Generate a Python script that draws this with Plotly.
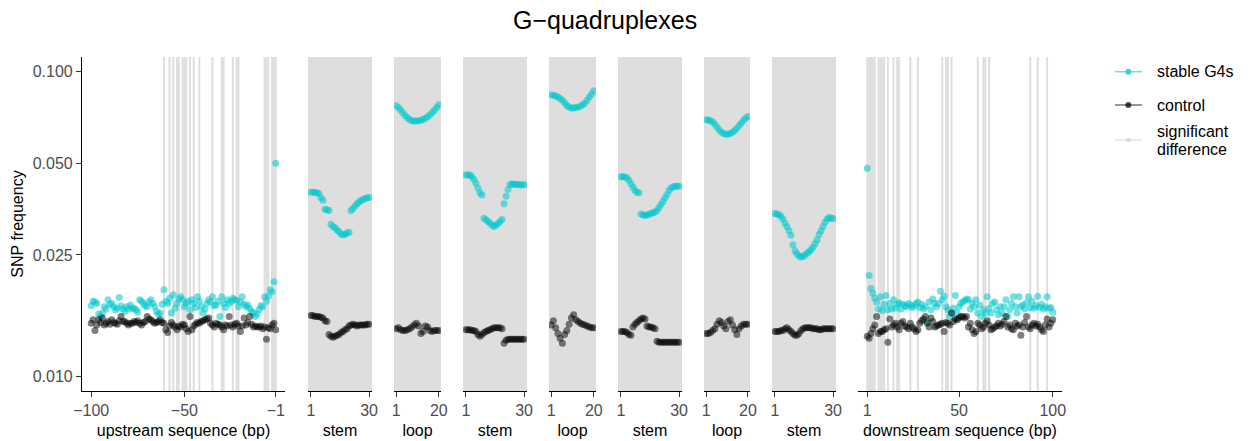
import plotly.graph_objects as go

W, H = 1252, 441

# ---------------- data ----------------
upstream_pos = list(range(-100, 0))
stem_pos = list(range(1, 31))
loop_pos = list(range(1, 21))
downstream_pos = list(range(1, 101))

up_stable = [0.0170, 0.0176, 0.0175, 0.0173, 0.0160, 0.0157, 0.0161, 0.0169, 0.0166, 0.0178,
             0.0172, 0.0173, 0.0169, 0.0165, 0.0167, 0.0181, 0.0170, 0.0166, 0.0163, 0.0169,
             0.0166, 0.0171, 0.0167, 0.0167, 0.0165, 0.0162, 0.0178, 0.0176, 0.0173, 0.0170,
             0.0169, 0.0175, 0.0178, 0.0173, 0.0169, 0.0163, 0.0160, 0.0161, 0.0172, 0.0192,
             0.0176, 0.0173, 0.0180, 0.0161, 0.0185, 0.0167, 0.0173, 0.0179, 0.0182, 0.0178,
             0.0169, 0.0173, 0.0176, 0.0165, 0.0178, 0.0173, 0.0168, 0.0182, 0.0176, 0.0169,
             0.0161, 0.0166, 0.0173, 0.0178, 0.0175, 0.0182, 0.0170, 0.0171, 0.0176, 0.0157,
             0.0182, 0.0173, 0.0168, 0.0178, 0.0173, 0.0176, 0.0180, 0.0178, 0.0177, 0.0169,
             0.0175, 0.0182, 0.0172, 0.0169, 0.0171, 0.0167, 0.0163, 0.0161, 0.0157, 0.0160,
             0.0165, 0.0170, 0.0169, 0.0182, 0.0176, 0.0183, 0.0192, 0.0189, 0.0204, 0.0500]
up_control = [0.0149, 0.0153, 0.0141, 0.0147, 0.0153, 0.0150, 0.0155, 0.0147, 0.0149, 0.0151,
              0.0148, 0.0153, 0.0150, 0.0149, 0.0148, 0.0152, 0.0157, 0.0151, 0.0151, 0.0149,
              0.0147, 0.0149, 0.0149, 0.0151, 0.0150, 0.0152, 0.0149, 0.0147, 0.0150, 0.0151,
              0.0157, 0.0154, 0.0153, 0.0151, 0.0149, 0.0150, 0.0151, 0.0153, 0.0150, 0.0149,
              0.0142, 0.0139, 0.0146, 0.0150, 0.0147, 0.0145, 0.0142, 0.0146, 0.0145, 0.0148,
              0.0147, 0.0143, 0.0140, 0.0157, 0.0142, 0.0146, 0.0148, 0.0150, 0.0149, 0.0151,
              0.0152, 0.0153, 0.0154, 0.0155, 0.0149, 0.0147, 0.0145, 0.0149, 0.0148, 0.0147,
              0.0145, 0.0142, 0.0147, 0.0146, 0.0157, 0.0147, 0.0145, 0.0148, 0.0149, 0.0146,
              0.0140, 0.0146, 0.0155, 0.0147, 0.0150, 0.0157, 0.0148, 0.0145, 0.0146, 0.0145,
              0.0145, 0.0146, 0.0143, 0.0145, 0.0132, 0.0144, 0.0143, 0.0147, 0.0149, 0.0142]

stem1_stable = [0.0402, 0.0402, 0.0401, 0.0400, 0.0398, 0.0385, 0.0378, 0.0353, 0.0352, 0.0350,
                0.0315, 0.0310, 0.0307, 0.0302, 0.0298, 0.0293, 0.0291, 0.0292, 0.0295, 0.0297,
                0.0350, 0.0355, 0.0362, 0.0368, 0.0373, 0.0377, 0.0380, 0.0383, 0.0385, 0.0386]
stem1_control = [0.0158, 0.0158, 0.0157, 0.0157, 0.0157, 0.0156, 0.0155, 0.0152, 0.0151, 0.0137,
                 0.0135, 0.0134, 0.0135, 0.0136, 0.0137, 0.0139, 0.0140, 0.0142, 0.0143, 0.0146,
                 0.0147, 0.0148, 0.0147, 0.0146, 0.0147, 0.0147, 0.0147, 0.0147, 0.0148, 0.0148]

loop1_stable = [0.0775, 0.0762, 0.0748, 0.0733, 0.0718, 0.0706, 0.0697, 0.0690, 0.0688, 0.0689,
                0.0690, 0.0693, 0.0697, 0.0703, 0.0711, 0.0720, 0.0733, 0.0747, 0.0762, 0.0778]
loop1_control = [0.0143, 0.0144, 0.0142, 0.0141, 0.0141, 0.0142, 0.0143, 0.0145, 0.0147, 0.0149,
                 0.0146, 0.0138, 0.0140, 0.0146, 0.0145, 0.0141, 0.0140, 0.0141, 0.0141, 0.0141]

stem2_stable = [0.0458, 0.0458, 0.0458, 0.0452, 0.0442, 0.0430, 0.0415, 0.0400, 0.0393, 0.0330,
                0.0326, 0.0322, 0.0318, 0.0313, 0.0310, 0.0313, 0.0317, 0.0322, 0.0327, 0.0368,
                0.0390, 0.0410, 0.0425, 0.0428, 0.0427, 0.0426, 0.0426, 0.0425, 0.0425, 0.0425]
stem2_control = [0.0142, 0.0142, 0.0142, 0.0141, 0.0141, 0.0140, 0.0137, 0.0135, 0.0137, 0.0139,
                 0.0140, 0.0141, 0.0142, 0.0143, 0.0144, 0.0144, 0.0144, 0.0144, 0.0143, 0.0128,
                 0.0131, 0.0132, 0.0132, 0.0132, 0.0132, 0.0132, 0.0132, 0.0132, 0.0132, 0.0132]

loop2_stable = [0.0838, 0.0836, 0.0832, 0.0826, 0.0817, 0.0805, 0.0790, 0.0775, 0.0765, 0.0760,
                0.0760, 0.0763, 0.0766, 0.0770, 0.0778, 0.0788, 0.0805, 0.0825, 0.0845, 0.0865]
loop2_control = [0.0147, 0.0152, 0.0144, 0.0138, 0.0133, 0.0128, 0.0137, 0.0141, 0.0148, 0.0155,
                 0.0159, 0.0153, 0.0151, 0.0149, 0.0148, 0.0147, 0.0146, 0.0145, 0.0144, 0.0144]

stem3_stable = [0.0452, 0.0452, 0.0451, 0.0448, 0.0440, 0.0428, 0.0418, 0.0408, 0.0402, 0.0400,
                0.0341, 0.0338, 0.0337, 0.0338, 0.0340, 0.0342, 0.0344, 0.0346, 0.0350, 0.0358,
                0.0366, 0.0375, 0.0385, 0.0395, 0.0407, 0.0415, 0.0419, 0.0420, 0.0420, 0.0420]
stem3_control = [0.0140, 0.0140, 0.0140, 0.0139, 0.0137, 0.0136, 0.0145, 0.0148, 0.0150, 0.0152,
                 0.0154, 0.0155, 0.0154, 0.0146, 0.0145, 0.0145, 0.0144, 0.0143, 0.0130, 0.0129,
                 0.0129, 0.0129, 0.0129, 0.0129, 0.0129, 0.0129, 0.0129, 0.0129, 0.0129, 0.0129]

loop3_stable = [0.0695, 0.0694, 0.0690, 0.0683, 0.0672, 0.0657, 0.0643, 0.0633, 0.0626, 0.0623,
                0.0623, 0.0626, 0.0632, 0.0641, 0.0652, 0.0665, 0.0678, 0.0692, 0.0704, 0.0712]
loop3_control = [0.0138, 0.0138, 0.0139, 0.0141, 0.0143, 0.0148, 0.0152, 0.0150, 0.0146, 0.0143,
                 0.0151, 0.0153, 0.0147, 0.0142, 0.0137, 0.0143, 0.0146, 0.0148, 0.0148, 0.0148]

stem4_stable = [0.0342, 0.0341, 0.0339, 0.0335, 0.0328, 0.0318, 0.0310, 0.0300, 0.0290, 0.0270,
                0.0258, 0.0252, 0.0248, 0.0246, 0.0247, 0.0250, 0.0253, 0.0256, 0.0260, 0.0265,
                0.0272, 0.0280, 0.0292, 0.0300, 0.0310, 0.0320, 0.0328, 0.0332, 0.0330, 0.0329]
stem4_control = [0.0140, 0.0140, 0.0140, 0.0141, 0.0141, 0.0143, 0.0144, 0.0142, 0.0140, 0.0138,
                 0.0136, 0.0136, 0.0138, 0.0141, 0.0143, 0.0144, 0.0144, 0.0144, 0.0144, 0.0143,
                 0.0143, 0.0143, 0.0142, 0.0142, 0.0143, 0.0143, 0.0143, 0.0143, 0.0143, 0.0143]

down_stable = [0.0482, 0.0214, 0.0194, 0.0187, 0.0180, 0.0175, 0.0166, 0.0182, 0.0164, 0.0172,
               0.0184, 0.0165, 0.0173, 0.0166, 0.0178, 0.0167, 0.0172, 0.0174, 0.0166, 0.0172,
               0.0170, 0.0169, 0.0173, 0.0171, 0.0168, 0.0170, 0.0173, 0.0175, 0.0168, 0.0172,
               0.0166, 0.0169, 0.0151, 0.0175, 0.0165, 0.0179, 0.0173, 0.0169, 0.0173, 0.0190,
               0.0178, 0.0183, 0.0169, 0.0165, 0.0157, 0.0161, 0.0167, 0.0184, 0.0161, 0.0169,
               0.0173, 0.0175, 0.0177, 0.0179, 0.0178, 0.0166, 0.0173, 0.0169, 0.0178, 0.0161,
               0.0171, 0.0157, 0.0165, 0.0161, 0.0182, 0.0167, 0.0161, 0.0173, 0.0175, 0.0165,
               0.0159, 0.0169, 0.0161, 0.0169, 0.0178, 0.0157, 0.0165, 0.0173, 0.0182, 0.0169,
               0.0161, 0.0182, 0.0169, 0.0171, 0.0166, 0.0174, 0.0182, 0.0168, 0.0176, 0.0167,
               0.0170, 0.0183, 0.0168, 0.0172, 0.0166, 0.0169, 0.0182, 0.0167, 0.0168, 0.0162]
down_control = [0.0135, 0.0133, 0.0138, 0.0143, 0.0147, 0.0157, 0.0138, 0.0140, 0.0140, 0.0142,
                0.0143, 0.0129, 0.0154, 0.0145, 0.0147, 0.0149, 0.0145, 0.0142, 0.0149, 0.0151,
                0.0146, 0.0145, 0.0143, 0.0149, 0.0145, 0.0143, 0.0140, 0.0142, 0.0149, 0.0152,
                0.0154, 0.0157, 0.0149, 0.0145, 0.0155, 0.0151, 0.0145, 0.0146, 0.0147, 0.0148,
                0.0149, 0.0140, 0.0150, 0.0149, 0.0147, 0.0161, 0.0151, 0.0154, 0.0153, 0.0155,
                0.0157, 0.0157, 0.0155, 0.0157, 0.0145, 0.0149, 0.0142, 0.0138, 0.0140, 0.0149,
                0.0147, 0.0143, 0.0145, 0.0149, 0.0152, 0.0147, 0.0142, 0.0143, 0.0145, 0.0146,
                0.0149, 0.0146, 0.0148, 0.0151, 0.0157, 0.0145, 0.0147, 0.0143, 0.0142, 0.0149,
                0.0146, 0.0147, 0.0136, 0.0145, 0.0150, 0.0157, 0.0145, 0.0143, 0.0147, 0.0149,
                0.0146, 0.0148, 0.0145, 0.0142, 0.0140, 0.0147, 0.0154, 0.0145, 0.0149, 0.0153]

sig_up = [-61, -58, -56, -54, -53, -51, -50, -49, -47, -45, -42, -35, -30, -29, -24, -22, -21,
          -7, -6, -5, -3, -2, -1]
sig_down = [1, 2, 3, 4, 5, 7, 8, 9, 10, 12, 15, 17, 18, 24, 28, 41, 43, 44, 46, 60, 63, 64, 66,
            88, 92, 97]

panel_titles = ["upstream sequence (bp)", "stem", "loop", "stem", "loop", "stem", "loop", "stem",
                "downstream sequence (bp)"]
y_tickvals = [0.010, 0.025, 0.050, 0.100]
y_ticktext = ["0.010", "0.025", "0.050", "0.100"]

# ---------------- style / layout ----------------
CYAN = "rgba(0,200,204,0.55)"
BLACK = "rgba(0,0,0,0.5)"
SIG = "#DEDEDE"
FONT = "Liberation Sans, Arial, sans-serif"

panels = [
    dict(x=upstream_pos, s=up_stable, c=up_control, px=(82, 285), rng=(-104.95, 3.95),
         tv=[-100, -50, -1], tt=["\u2212100", "\u221250", "\u22121"], grey=False),
    dict(x=stem_pos, s=stem1_stable, c=stem1_control, px=(308, 372), rng=(-0.45, 31.45),
         tv=[1, 30], tt=["1", "30"], grey=True),
    dict(x=loop_pos, s=loop1_stable, c=loop1_control, px=(394, 441), rng=(0.05, 20.95),
         tv=[1, 20], tt=["1", "20"], grey=True),
    dict(x=stem_pos, s=stem2_stable, c=stem2_control, px=(463, 527), rng=(-0.45, 31.45),
         tv=[1, 30], tt=["1", "30"], grey=True),
    dict(x=loop_pos, s=loop2_stable, c=loop2_control, px=(549, 596), rng=(0.05, 20.95),
         tv=[1, 20], tt=["1", "20"], grey=True),
    dict(x=stem_pos, s=stem3_stable, c=stem3_control, px=(618, 682), rng=(-0.45, 31.45),
         tv=[1, 30], tt=["1", "30"], grey=True),
    dict(x=loop_pos, s=loop3_stable, c=loop3_control, px=(704, 750), rng=(0.05, 20.95),
         tv=[1, 20], tt=["1", "20"], grey=True),
    dict(x=stem_pos, s=stem4_stable, c=stem4_control, px=(772, 836), rng=(-0.45, 31.45),
         tv=[1, 30], tt=["1", "30"], grey=True),
    dict(x=downstream_pos, s=down_stable, c=down_control, px=(858, 1062), rng=(-3.95, 104.95),
         tv=[1, 50, 100], tt=["1", "50", "100"], grey=False),
]

TOP, BOT = 57, 391
ydom = [1 - BOT / H, 1 - TOP / H]

fig = go.Figure()
shapes = []
layout = dict(
    width=W, height=H, margin=dict(l=0, r=0, t=0, b=0, autoexpand=False),
    paper_bgcolor="white", plot_bgcolor="rgba(0,0,0,0)",
    showlegend=False, font=dict(family=FONT, size=16, color="#000000"),
    yaxis=dict(type="log", range=[-2.0493, -0.9517], domain=ydom, anchor="x",
               automargin=False,
               tickvals=y_tickvals, ticktext=y_ticktext, showline=True, linecolor="black",
               linewidth=1.1, ticks="outside", ticklen=5, tickcolor="#333333", tickwidth=1.1,
               showgrid=False, zeroline=False, tickfont=dict(size=16, color="#4D4D4D"),
               title=dict(text="SNP frequency", font=dict(size=16, color="black"), standoff=5)),
)

for i, p in enumerate(panels):
    k = "" if i == 0 else str(i + 1)
    xname = "x" + k
    axkey = "xaxis" + k
    layout[axkey] = dict(
        domain=[p["px"][0] / W, p["px"][1] / W], range=list(p["rng"]), anchor="y",
        automargin=False,
        tickvals=p["tv"], ticktext=p["tt"], showline=True, linecolor="black", linewidth=1.1,
        ticks="outside", ticklen=5, tickcolor="#333333", tickwidth=1.1, showgrid=False,
        zeroline=False, tickfont=dict(size=16, color="#4D4D4D"),
        title=dict(text=panel_titles[i], font=dict(size=16, color="black"), standoff=6),
    )
    if p["grey"]:
        shapes.append(dict(type="rect", xref=xname + " domain", yref="y domain",
                           x0=0, x1=1, y0=0, y1=1, fillcolor=SIG, line=dict(width=0),
                           layer="below"))
    sig = sig_up if i == 0 else (sig_down if i == 8 else [])
    for v in sig:
        shapes.append(dict(type="line", xref=xname, yref="y domain", x0=v, x1=v, y0=0, y1=1,
                           line=dict(color=SIG, width=2), layer="below"))
    fig.add_trace(go.Scatter(x=p["x"], y=p["s"], mode="markers", xaxis=xname, yaxis="y",
                             marker=dict(size=7, color=CYAN, line=dict(width=0)),
                             name="stable G4s"))
    fig.add_trace(go.Scatter(x=p["x"], y=p["c"], mode="markers", xaxis=xname, yaxis="y",
                             marker=dict(size=7, color=BLACK, line=dict(width=0)),
                             name="control"))

# ---------------- manual legend ----------------
def px2x(x):
    return x / W


def px2y(y):
    return 1 - y / H


annotations = []
legend_items = [
    (71.7, "rgba(0,200,204,0.55)", "rgba(0,200,204,0.75)", "circle", ["stable G4s"]),
    (105.0, "rgba(0,0,0,0.55)", "rgba(0,0,0,0.7)", "circle", ["control"]),
    (140.0, "#E3E3E3", "#DADADA", "square", ["significant", "difference"]),
]
for yy, lc, mc, sym, labels in legend_items:
    shapes.append(dict(type="line", xref="paper", yref="paper", x0=px2x(1115), x1=px2x(1142),
                       y0=px2y(yy), y1=px2y(yy), line=dict(color=lc, width=1.5)))
    if sym == "circle":
        shapes.append(dict(type="circle", xref="paper", yref="paper",
                           x0=px2x(1125.3), x1=px2x(1131.3), y0=px2y(yy + 3), y1=px2y(yy - 3),
                           fillcolor=mc, line=dict(width=0)))
    else:
        shapes.append(dict(type="rect", xref="paper", yref="paper",
                           x0=px2x(1126.5), x1=px2x(1130.5), y0=px2y(yy + 2), y1=px2y(yy - 2),
                           fillcolor=mc, line=dict(width=0)))
    if len(labels) == 1:
        annotations.append(dict(text=labels[0], xref="paper", yref="paper", x=px2x(1155),
                                y=px2y(yy), xanchor="left", yanchor="middle", showarrow=False,
                                font=dict(size=16, color="black")))
    else:
        annotations.append(dict(text=labels[0], xref="paper", yref="paper", x=px2x(1155),
                                y=px2y(yy - 8.5), xanchor="left", yanchor="middle",
                                showarrow=False, font=dict(size=16, color="black")))
        annotations.append(dict(text=labels[1], xref="paper", yref="paper", x=px2x(1155),
                                y=px2y(yy + 9.5), xanchor="left", yanchor="middle",
                                showarrow=False, font=dict(size=16, color="black")))

annotations.append(dict(text="G\u2212quadruplexes", xref="paper", yref="paper", x=px2x(605),
                        y=px2y(20), xanchor="center", yanchor="middle", showarrow=False,
                        font=dict(size=25, color="black")))

layout["shapes"] = shapes
layout["annotations"] = annotations
fig.update_layout(**layout)
fig.write_html("out.html")
